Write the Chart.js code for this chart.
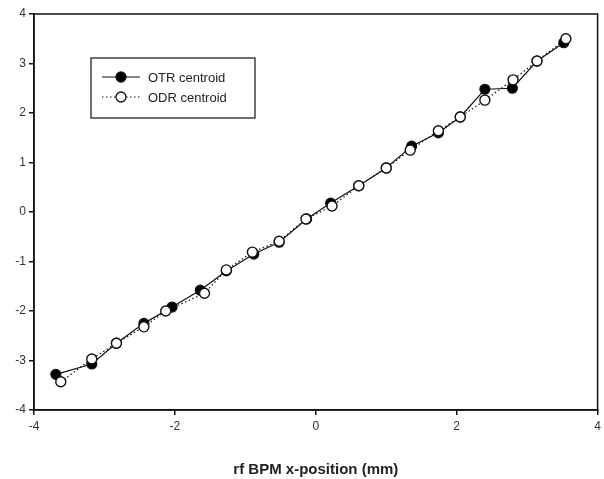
<!DOCTYPE html>
<html>
<head>
<meta charset="utf-8">
<script src="https://cdn.jsdelivr.net/npm/chart.js@4.4.1/dist/chart.umd.min.js"></script>
<style>
  html, body { margin: 0; padding: 0; background: #fff; }
  #wrap { width: 604px; height: 479px; }
</style>
</head>
<body>
<div id="wrap"><canvas id="centroidChart" width="604" height="479"></canvas></div>
<script>
const seriesNames = ['OTR centroid', 'ODR centroid'];

const otrX = [-3.69, -3.18, -2.83, -2.44, -2.04, -1.64, -1.27, -0.88, -0.52, -0.13, 0.21, 0.61, 1.00, 1.36, 1.74, 2.05, 2.40, 2.79, 3.14, 3.52];
const otrY = [-3.28, -3.07, -2.65, -2.25, -1.92, -1.58, -1.19, -0.85, -0.61, -0.14, 0.18, 0.53, 0.89, 1.33, 1.60, 1.92, 2.48, 2.50, 3.05, 3.42];

const odrX = [-3.62, -3.18, -2.83, -2.44, -2.13, -1.58, -1.27, -0.90, -0.52, -0.14, 0.23, 0.61, 1.00, 1.34, 1.74, 2.05, 2.40, 2.80, 3.14, 3.55];
const odrY = [-3.43, -2.97, -2.65, -2.32, -2.00, -1.64, -1.17, -0.81, -0.59, -0.14, 0.12, 0.53, 0.89, 1.25, 1.64, 1.92, 2.26, 2.67, 3.05, 3.50];

const xTicks = [-4, -2, 0, 2, 4];
const yTicks = [-4, -3, -2, -1, 0, 1, 2, 3, 4];
const xTitle = 'rf BPM x-position (mm)';

function toPoints(xs, ys) {
    return xs.map((x, i) => ({ x: x, y: ys[i] }));
}

// full box round the plot area
const framePlugin = {
    id: 'frame',
    afterDraw(chart) {
        const { ctx, chartArea: a } = chart;
        ctx.save();
        ctx.strokeStyle = '#111';
        ctx.lineWidth = 1.5;
        ctx.strokeRect(a.left, a.top, a.right - a.left, a.bottom - a.top);
        ctx.restore();
    }
};

// boxed legend sitting inside the plot
const boxLegend = {
    id: 'boxLegend',
    afterDraw(chart) {
        const ctx = chart.ctx;
        const left = 91, top = 58, w = 164, h = 60;
        ctx.save();
        ctx.fillStyle = '#fff';
        ctx.fillRect(left, top, w, h);
        ctx.strokeStyle = '#111';
        ctx.lineWidth = 1.2;
        ctx.strokeRect(left, top, w, h);
        chart.data.datasets.forEach((ds, i) => {
            const y = 77 + i * 20;
            ctx.strokeStyle = '#111';
            ctx.lineWidth = 1.2;
            ctx.setLineDash(ds.borderDash || []);
            ctx.beginPath();
            ctx.moveTo(102, y);
            ctx.lineTo(140, y);
            ctx.stroke();
            ctx.setLineDash([]);
            ctx.beginPath();
            ctx.arc(121, y, 5, 0, Math.PI * 2);
            ctx.fillStyle = ds.pointBackgroundColor;
            ctx.fill();
            ctx.lineWidth = 1.3;
            ctx.stroke();
            ctx.fillStyle = '#222';
            ctx.font = '13px "Liberation Sans", Arial, sans-serif';
            ctx.textBaseline = 'middle';
            ctx.fillText(ds.label, 148, y + 1);
        });
        ctx.restore();
    }
};

const ctx = document.getElementById('centroidChart').getContext('2d');
new Chart(ctx, {
    type: 'scatter',
    data: {
        datasets: [{
            label: seriesNames[0],
            data: toPoints(otrX, otrY),
            showLine: true,
            borderColor: '#111',
            borderWidth: 1.2,
            pointRadius: 5,
            pointBackgroundColor: '#000',
            pointBorderColor: '#111',
            pointBorderWidth: 1.2,
            order: 2
        }, {
            label: seriesNames[1],
            data: toPoints(odrX, odrY),
            showLine: true,
            borderColor: '#111',
            borderWidth: 1.2,
            borderDash: [1.5, 2.5],
            pointRadius: 5,
            pointBackgroundColor: '#fff',
            pointBorderColor: '#111',
            pointBorderWidth: 1.4,
            order: 1
        }]
    },
    options: {
        responsive: false,
        animation: false,
        layout: {
            padding: { left: 0, right: 0, top: 14, bottom: 0 }
        },
        plugins: {
            legend: { display: false },
            tooltip: { enabled: false }
        },
        scales: {
            x: {
                type: 'linear',
                min: -4,
                max: 4,
                afterBuildTicks: axis => { axis.ticks = xTicks.map(v => ({ value: v })); },
                afterFit: axis => { axis.height = 69; axis.paddingRight = 2; },
                grid: { drawOnChartArea: false, drawTicks: true, tickLength: 5, color: '#111', lineWidth: 1.5 },
                border: { color: '#111', width: 1.5 },
                ticks: {
                    color: '#333',
                    padding: 4,
                    font: { family: '"Liberation Sans", Arial, sans-serif', size: 12 }
                },
                title: {
                    display: true,
                    text: xTitle,
                    color: '#222',
                    padding: { top: 12, bottom: 0 },
                    font: { family: '"Liberation Sans", Arial, sans-serif', size: 15, weight: 'bold' }
                }
            },
            y: {
                type: 'linear',
                min: -4,
                max: 4,
                afterBuildTicks: axis => { axis.ticks = yTicks.map(v => ({ value: v })); },
                afterFit: axis => { axis.width = 34; },
                grid: { drawOnChartArea: false, drawTicks: true, tickLength: 5, color: '#111', lineWidth: 1.5 },
                border: { color: '#111', width: 1.5 },
                ticks: {
                    color: '#333',
                    padding: 3,
                    font: { family: '"Liberation Sans", Arial, sans-serif', size: 12 }
                }
            }
        }
    },
    plugins: [framePlugin, boxLegend]
});
</script>
</body>
</html>
